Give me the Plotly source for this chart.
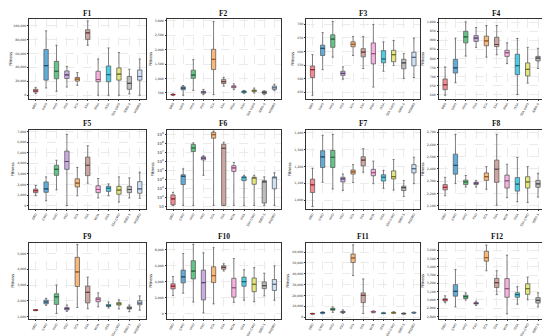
import plotly.graph_objects as go

categories = ["DBO", "GWO", "HHO", "PSO", "SCA", "SSA", "WOA", "ISSA", "SSA GWO", "IDBO-S", "MSDBO"]
colors = ["#f47a82", "#4aa3d6", "#4dbf76", "#c6a0e0", "#f9b066", "#c99a94",
          "#f7a8dc", "#30c8e4", "#e2e46c", "#b4b4b4", "#c8def4"]
medians_c = ["#a31d2a", "#1c4f7a", "#1e6b3a", "#5e3f7a", "#a8581a", "#6e3e38",
             "#a04d86", "#0f6a7d", "#6f701d", "#4a4a4a", "#4d6a8a"]
titles = ["F1", "F2", "F3", "F4", "F5", "F6", "F7", "F8", "F9", "F10", "F11", "F12"]

F1_upper = [11300, 92400, 71700, 41500, 32500, 106600, 51900, 67900, 61300, 37300, 51900]
F1_q3 = [8500, 65600, 48600, 34900, 25500, 93900, 34400, 42000, 39200, 26900, 36300]
F1_med = [6100, 42500, 34400, 29200, 23100, 89600, 22600, 29700, 30200, 17000, 26900]
F1_q1 = [4700, 21700, 23600, 24000, 20300, 80200, 19300, 19300, 21700, 8500, 21700]
F1_lower = [2400, 10400, 5700, 11800, 14200, 71700, 0, 0, 0, 1900, 0]

F2_upper = [466, 760, 1654, 624, 2977, 1043, 817, 590, 670, 579, 805]
F2_q3 = [455, 715, 1292, 557, 2016, 964, 749, 568, 602, 557, 738]
F2_med = [443, 670, 1122, 534, 1665, 896, 715, 545, 579, 523, 681]
F2_q1 = [432, 613, 1009, 489, 1314, 828, 681, 511, 545, 477, 624]
F2_lower = [421, 421, 590, 443, 443, 738, 613, 489, 500, 443, 579]

F3_upper = [588, 669, 710, 543, 655, 655, 699, 635, 640, 592, 649]
F3_q3 = [546, 623, 661, 527, 635, 610, 631, 603, 604, 571, 597]
F3_med = [533, 611, 645, 519, 626, 597, 592, 572, 588, 558, 578]
F3_q1 = [504, 585, 615, 512, 617, 580, 554, 558, 562, 536, 547]
F3_lower = [439, 533, 579, 498, 585, 537, 469, 527, 548, 501, 504]

F4_upper = [753, 912, 1002, 971, 982, 982, 886, 910, 861, 856, 865]
F4_q3 = [686, 795, 950, 926, 923, 917, 845, 823, 775, 811, 798]
F4_med = [654, 748, 919, 912, 897, 877, 832, 760, 739, 802, 768]
F4_q1 = [627, 719, 886, 894, 870, 865, 811, 710, 703, 786, 703]
F4_lower = [596, 665, 813, 861, 807, 820, 771, 600, 663, 744, 636]

F5_upper = [1923, 2722, 4290, 6716, 3609, 5651, 2574, 2071, 2722, 2633, 3166]
F5_q3 = [1568, 2249, 3817, 5148, 2544, 4586, 1893, 1834, 1834, 1834, 2278]
F5_med = [1420, 1598, 3432, 4172, 2130, 3817, 1538, 1657, 1479, 1538, 1598]
F5_q1 = [1243, 1272, 2870, 3432, 1775, 2840, 1243, 1361, 1095, 1243, 1183]
F5_lower = [947, 473, 1509, 30, 947, 2130, 740, 947, 355, 740, 710]

F6_upper = [3.5e2, 1.5e5, 1.2e8, 4.3e6, 2.5e9, 1.4e8, 7.9e5, 2.8e4, 2.8e4, 1.9e4, 5.4e4]
F6_q3 = [1.8e2, 3.2e4, 8.1e7, 3.3e6, 1.8e9, 8.1e7, 3.4e5, 1.9e4, 1.7e4, 7.1e3, 1.8e4]
F6_med = [6.5e1, 2.1e4, 3.2e7, 2.3e6, 1.0e9, 3.0e7, 1.9e5, 1.7e4, 1.5e4, 5.1e3, 1.7e4]
F6_q1 = [1.4e1, 2.6e3, 1.3e7, 1.5e6, 4.0e8, 1.2e1, 7.6e4, 7.1e3, 2.8e3, 2.2e1, 8.7e2]
F6_lower = [1.2e1, 1.2e1, 1.2e1, 2.8e4, 1.2e1, 1.2e1, 1.2e1, 1.2e1, 1.2e1, 1.2e1, 1.2e1]

F7_upper = [1189, 1385, 1391, 1155, 1211, 1306, 1232, 1177, 1242, 1117, 1255]
F7_q3 = [1125, 1294, 1296, 1136, 1179, 1258, 1183, 1151, 1174, 1083, 1211]
F7_med = [1091, 1257, 1255, 1126, 1168, 1238, 1164, 1136, 1140, 1074, 1187]
F7_q1 = [1045, 1194, 1194, 1108, 1155, 1204, 1145, 1113, 1126, 1057, 1162]
F7_lower = [962, 1106, 1066, 1058, 1104, 1166, 1098, 1070, 1060, 1021, 1098]

F8_upper = [2332, 2682, 2347, 2307, 2419, 2682, 2439, 2493, 2419, 2365, 2444]
F8_q3 = [2273, 2521, 2309, 2291, 2368, 2472, 2350, 2330, 2337, 2307, 2347]
F8_med = [2251, 2429, 2294, 2284, 2337, 2398, 2304, 2276, 2294, 2279, 2302]
F8_q1 = [2230, 2358, 2273, 2273, 2307, 2291, 2245, 2220, 2245, 2251, 2240]
F8_lower = [2182, 2281, 2253, 2253, 2235, 2105, 2166, 2133, 2128, 2171, 2138]

F9_upper = [1442, 2154, 3000, 1731, 5558, 3500, 2500, 1923, 2058, 1731, 2308]
F9_q3 = [1423, 2038, 2442, 1577, 4750, 2923, 2192, 1769, 1885, 1615, 2000]
F9_med = [1404, 1923, 2250, 1500, 3827, 2538, 2096, 1692, 1808, 1538, 1846]
F9_q1 = [1385, 1808, 1769, 1423, 2904, 1865, 1942, 1635, 1731, 1481, 1750]
F9_lower = [1365, 1712, 1192, 1327, 1577, 1500, 1615, 1538, 1481, 1308, 1404]

F10_upper = [4648, 7543, 8686, 7619, 8267, 6248, 6895, 5486, 5752, 5067, 5981]
F10_q3 = [3733, 5448, 6629, 5448, 5867, 5981, 4419, 4571, 4457, 3962, 4267]
F10_med = [3429, 4610, 5333, 3886, 4762, 5790, 3238, 4000, 3657, 3505, 3657]
F10_q1 = [3086, 3848, 4343, 1714, 3886, 5562, 2057, 3429, 2743, 3124, 2895]
F10_lower = [2248, 2552, 1448, 76, 1219, 5333, 1410, 1676, 1486, 2210, 1676]

F11_upper = [3640, 5042, 9524, 6723, 66667, 35294, 5882, 4482, 5042, 3922, 4762]
F11_q3 = [3360, 4482, 8123, 5322, 58263, 22409, 5322, 3922, 4482, 3641, 4482]
F11_med = [3220, 4202, 7283, 4762, 54622, 20168, 5042, 3641, 4202, 3361, 4202]
F11_q1 = [3080, 3641, 6443, 4202, 50420, 13445, 4482, 3361, 3641, 3081, 3922]
F11_lower = [2800, 3081, 4482, 3361, 38375, 3361, 3922, 3081, 3361, 2801, 3361]

F12_upper = [3050, 3365, 3086, 2985, 3659, 3351, 3539, 3159, 3275, 3086, 3275]
F12_q3 = [3014, 3184, 3057, 2967, 3586, 3260, 3257, 3086, 3195, 3028, 3191]
F12_med = [3003, 3104, 3039, 2959, 3510, 3209, 3137, 3064, 3137, 2996, 3133]
F12_q1 = [2988, 3046, 3017, 2952, 3467, 3151, 3032, 3032, 3068, 2963, 3083]
F12_lower = [2967, 2916, 2999, 2934, 3351, 3064, 2833, 2949, 3003, 2916, 2970]

stats = [
    (F1_lower, F1_q1, F1_med, F1_q3, F1_upper),
    (F2_lower, F2_q1, F2_med, F2_q3, F2_upper),
    (F3_lower, F3_q1, F3_med, F3_q3, F3_upper),
    (F4_lower, F4_q1, F4_med, F4_q3, F4_upper),
    (F5_lower, F5_q1, F5_med, F5_q3, F5_upper),
    (F6_lower, F6_q1, F6_med, F6_q3, F6_upper),
    (F7_lower, F7_q1, F7_med, F7_q3, F7_upper),
    (F8_lower, F8_q1, F8_med, F8_q3, F8_upper),
    (F9_lower, F9_q1, F9_med, F9_q3, F9_upper),
    (F10_lower, F10_q1, F10_med, F10_q3, F10_upper),
    (F11_lower, F11_q1, F11_med, F11_q3, F11_upper),
    (F12_lower, F12_q1, F12_med, F12_q3, F12_upper),
]

# y-axis ticks per panel
ytick_vals = [
    [0, 20000, 40000, 60000, 80000, 100000],
    [500, 1000, 1500, 2000, 2500, 3000],
    [450, 500, 550, 600, 650, 700],
    [600, 650, 700, 750, 800, 850, 900, 950, 1000],
    [0, 1000, 2000, 3000, 4000, 5000, 6000, 7000],
    None,
    [1000, 1100, 1200, 1300, 1400],
    [2100, 2200, 2300, 2400, 2500, 2600, 2700],
    [1000, 2000, 3000, 4000, 5000],
    [0, 2000, 4000, 6000, 8000],
    [0, 10000, 20000, 30000, 40000, 50000, 60000],
    [2800, 2900, 3000, 3100, 3200, 3300, 3400, 3500, 3600],
]
yranges = [
    [-4700, 109400], [308, 3068], [427, 719], [578, 1018],
    [-296, 7160], [0.68, 9.55], [947, 1419], [2074, 2720],
    [846, 5692], [-686, 8914], [-1680, 68900], [2771, 3691],
]

W, H = 550, 336
cols_px = [(19.5, 136.5), (157.5, 271.5), (297.5, 411.5), (430.5, 546.5)]
rows_px = [(11.0, 90.5), (121.7, 201.0), (234.5, 311.0)]

fig = go.Figure()
layout = {}
annotations = []
tickfont = dict(family="DejaVu Sans", size=3.0, color="#333333")

for p in range(12):
    r, c = divmod(p, 4)
    ax = "" if p == 0 else str(p + 1)
    lo, q1, med, q3, up = stats[p]
    for i, cat in enumerate(categories):
        # box body and whiskers (gray outline)
        fig.add_trace(go.Box(
            x=[cat], q1=[q1[i]], median=[med[i]], q3=[q3[i]],
            lowerfence=[lo[i]], upperfence=[up[i]],
            fillcolor=colors[i], opacity=0.88,
            line=dict(color="#4d4d4d", width=0.8),
            whiskerwidth=0.5, boxpoints=False, showlegend=False,
            xaxis="x" + ax, yaxis="y" + ax,
        ))
        # coloured median line
        fig.add_trace(go.Box(
            x=[cat], q1=[med[i]], median=[med[i]], q3=[med[i]],
            lowerfence=[med[i]], upperfence=[med[i]],
            fillcolor="rgba(0,0,0,0)",
            line=dict(color=medians_c[i], width=1.2),
            whiskerwidth=0, boxpoints=False, showlegend=False, hoverinfo="skip",
            xaxis="x" + ax, yaxis="y" + ax,
        ))
    x0, x1 = cols_px[c]
    y0, y1 = rows_px[r]
    xa = dict(domain=[x0 / W, x1 / W], anchor="y" + ax,
              type="category", categoryorder="array", categoryarray=categories,
              tickangle=-60, tickfont=tickfont, ticks="outside", ticklen=1.5,
              tickwidth=0.5, tickcolor="#333",
              showline=True, linecolor="#333", linewidth=0.8, mirror=True,
              showgrid=True, gridcolor="#ebebeb", gridwidth=0.5, griddash="dash",
              range=[-0.6, 10.6], fixedrange=True)
    ya = dict(domain=[1 - y1 / H, 1 - y0 / H], anchor="x" + ax,
              tickfont=dict(family="DejaVu Sans", size=3.2, color="#333333"),
              ticks="outside", ticklen=1.5, tickwidth=0.5,
              tickcolor="#333", showline=True, linecolor="#333", linewidth=0.8,
              mirror=True, showgrid=True, gridcolor="#ebebeb", gridwidth=0.5,
              griddash="dash", zeroline=False, range=yranges[p],
              title=dict(text="Fitness", font=dict(family="DejaVu Sans", size=4, color="#222"),
                         standoff=2))
    if ytick_vals[p] is None:
        ya.update(type="log", dtick=1, exponentformat="power", showexponent="all")
    else:
        ya.update(tickvals=ytick_vals[p], tickformat=",d")
    layout["xaxis" + ax] = xa
    layout["yaxis" + ax] = ya
    annotations.append(dict(
        text="<b>" + titles[p] + "</b>", x=(x0 + x1) / 2 / W, y=1 - (y0 - 5.8) / H,
        xref="paper", yref="paper", xanchor="center", yanchor="middle",
        borderpad=0, showarrow=False,
        font=dict(family="Liberation Serif", size=7.5, color="#111")))

fig.update_layout(**layout)
fig.update_layout(
    width=W, height=H, margin=dict(l=0, r=0, t=0, b=0),
    paper_bgcolor="white", plot_bgcolor="white",
    annotations=annotations, boxgap=0.4, boxmode="overlay",
)
fig.write_html("out.html")
